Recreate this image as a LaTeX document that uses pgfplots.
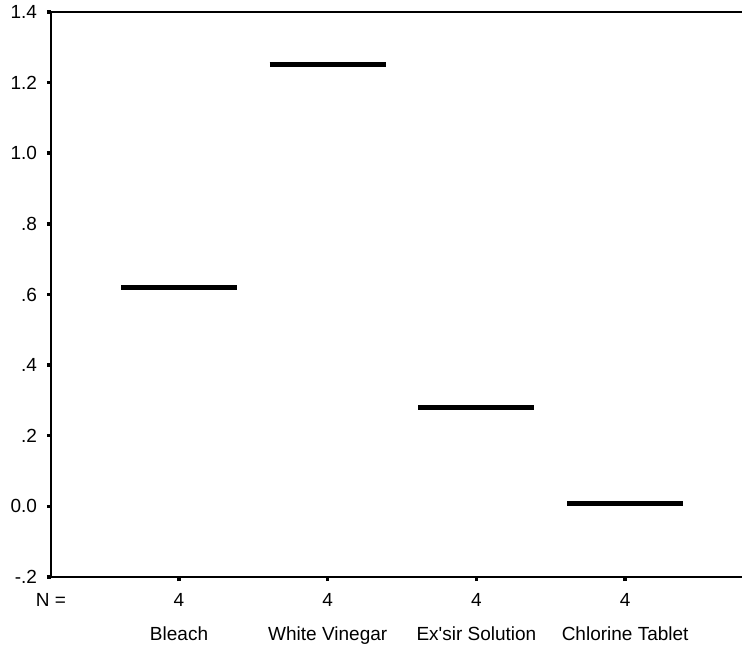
\documentclass[border=0pt]{standalone}
\usepackage{pgfplots}
\pgfplotsset{compat=1.18}
\usepackage{fontspec}
\setmainfont{Liberation Sans}
\begin{document}
\begin{tikzpicture}
\useasboundingbox (-51pt,-74pt) rectangle (691pt,577pt);
\begin{axis}[
  at={(0pt,0pt)}, anchor=south west,
  scale only axis, width=691pt, height=565pt,
  xmin=-0.861, xmax=3.786, ymin=-0.2, ymax=1.4,
  axis x line*=box, axis y line*=left,
  axis line style={line width=2pt, black},
  xtick={0,1,2,3}, xticklabels={4,4,4,4},
  xtick pos=bottom, ytick pos=left,
  ytick={-0.2,0,0.2,0.4,0.6,0.8,1.0,1.2,1.4},
  yticklabels={-.2,0.0,.2,.4,.6,.8,1.0,1.2,1.4},
  tick align=outside, major tick length=4pt,
  tick style={line width=3.5pt, black},
  tick label style={font=\fontsize{19}{22}\selectfont, text=black},
  yticklabel style={xshift=-6.5pt},
  xticklabel style={anchor=base, yshift=-25pt},
  clip=false,
]
\addplot[black, line width=5pt, line cap=butt] coordinates {(-0.39,0.62) (0.39,0.62)};
\addplot[black, line width=5pt, line cap=butt] coordinates {(0.61,1.25) (1.39,1.25)};
\addplot[black, line width=5pt, line cap=butt] coordinates {(1.61,0.28) (2.39,0.28)};
\addplot[black, line width=5pt, line cap=butt] coordinates {(2.61,0.0075) (3.39,0.0075)};
\node[font=\fontsize{19}{22}\selectfont, anchor=base] at (rel axis cs:0,0) [yshift=-29pt] {N =};
\node[font=\fontsize{19}{22}\selectfont, anchor=base] at (axis cs:0,-0.2) [yshift=-63pt] {Bleach};
\node[font=\fontsize{19}{22}\selectfont, anchor=base] at (axis cs:1,-0.2) [yshift=-63pt] {White Vinegar};
\node[font=\fontsize{19}{22}\selectfont, anchor=base] at (axis cs:2,-0.2) [yshift=-63pt] {Ex\textquotesingle sir Solution};
\node[font=\fontsize{19}{22}\selectfont, anchor=base] at (axis cs:3,-0.2) [yshift=-63pt] {Chlorine Tablet};
\end{axis}
\end{tikzpicture}
\end{document}
